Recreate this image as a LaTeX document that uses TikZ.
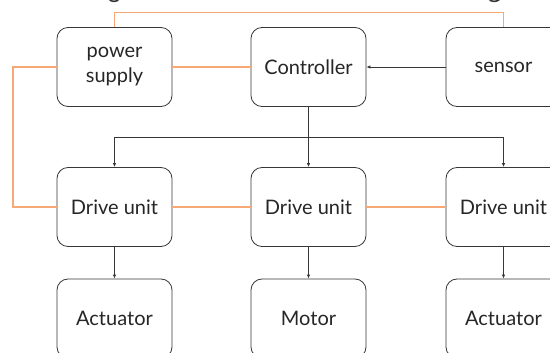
\documentclass[tikz,border=0pt]{standalone}
\usepackage{fontspec}
\setmainfont{Lato}
\usetikzlibrary{arrows.meta}
\definecolor{wire}{RGB}{246,168,118}
\definecolor{edge}{RGB}{55,55,55}
\tikzset{
  block/.style={draw=edge, line width=0.8pt, rounded corners=11pt,
    minimum width=115pt, minimum height=79pt, inner sep=0pt,
    align=center, font=\fontsize{20}{25}\selectfont, text=black!85},
  power/.style={draw=wire, line width=1.1pt},
  signal/.style={draw=edge, line width=0.8pt, -{Latex[length=4pt,width=3.5pt]}},
}
\begin{document}
\begin{tikzpicture}[x=1pt, y=-1pt]
  \useasboundingbox (0,0) rectangle (550,353);
  \begin{scope}
    \clip (0,0) rectangle (550,353);
    % tails of the title glyphs above
    \draw[edge, line width=1.6pt] (109,-1) .. controls (111,2.2) and (117,2.2) .. (119,-1);
    \draw[edge, line width=1.6pt] (489,-1) .. controls (491,2.2) and (497,2.2) .. (500,-1);

    % top row
    \node[block] (ps)   at (114.5,67) {power\\supply};
    \node[block] (ctrl) at (308.5,67) {Controller};
    \node[block] (sens) at (503.5,67) {sensor};
    % middle row
    \node[block] (du1) at (114.5,207) {Drive unit};
    \node[block] (du2) at (308.5,207) {Drive unit};
    \node[block] (du3) at (503.5,207) {Drive unit};
    % bottom row
    \node[block] (act1) at (114.5,318.5) {Actuator};
    \node[block] (mot)  at (308.5,318.5) {Motor};
    \node[block] (act2) at (503.5,318.5) {Actuator};

    % power wiring
    \coordinate (lft) at (13,0);
    \draw[power] (ps.north) -- ++(0,-15) -| (sens.north);
    \draw[power] (ps.west) -- (lft |- ps.west) -- (lft |- du1.west) -- (du1.west);
    \draw[power] (ps.east) -- (ctrl.west);
    \draw[power] (du1.east) -- (du2.west);
    \draw[power] (du2.east) -- (du3.west);

    % control signals
    \draw[signal] (sens.west) -- (ctrl.east);
    \coordinate (br) at (308.5,137);
    \draw[signal] (ctrl.south) -- (du2.north);
    \draw[signal] (br) -| (du1.north);
    \draw[signal] (br) -| (du3.north);
    \draw[signal] (du1.south) -- (act1.north);
    \draw[signal] (du2.south) -- (mot.north);
    \draw[signal] (du3.south) -- (act2.north);
  \end{scope}
\end{tikzpicture}
\end{document}
